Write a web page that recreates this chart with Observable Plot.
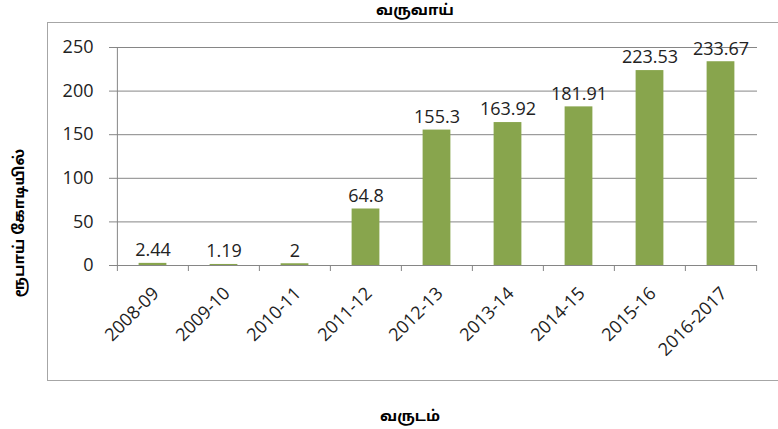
<!DOCTYPE html>
<html><head><meta charset="utf-8">
<script src="https://cdn.jsdelivr.net/npm/d3@7"></script>
<script src="https://cdn.jsdelivr.net/npm/@observablehq/plot@0.6"></script>
<style>
body{margin:0;background:#fff;}
#wrap{position:relative;width:778px;height:429px;overflow:hidden;font-family:"Open Sans",sans-serif;}
#frame{position:absolute;left:47px;top:22px;width:760px;height:357px;border:1px solid #a6a6a6;}
#chart{position:absolute;left:0;top:0;}
.t{position:absolute;font-family:"Noto Sans Tamil","Noto Sans",sans-serif;font-weight:bold;font-size:15px;color:#000;white-space:nowrap;line-height:1;}
#title{left:315px;width:200px;top:4px;text-align:center;}
#xlabel{left:310px;width:200px;top:410px;text-align:center;}
#ylabel{left:20px;top:223px;transform:translate(-50%,-50%) rotate(-90deg);}
</style></head><body>
<div id="wrap">
<div id="frame"></div>
<div id="chart"></div>
<div class="t" id="title">வருவாய்</div>
<div class="t" id="ylabel">ரூபாய் கோடியில்</div>
<div class="t" id="xlabel">வருடம்</div>
</div>
<script>
const years = ["2008-09","2009-10","2010-11","2011-12","2012-13","2013-14","2014-15","2015-16","2016-2017"];
const revenue = [2.44,1.19,2,64.8,155.3,163.92,181.91,223.53,233.67];
const valueLabels = ["2.44","1.19","2","64.8","155.3","163.92","181.91","223.53","233.67"];
const yTicks = [0,50,100,150,200,250];

const data = years.map((y,i)=>({year:y, value:revenue[i], label:valueLabels[i]}));
const W=778,H=429,ML=116,MR=21,MT=47,MB=164;
const half = (W-ML-MR)/years.length/2;
const gray = "#868686";

const chart = Plot.plot({
  width:W, height:H, marginLeft:ML, marginRight:MR, marginTop:MT, marginBottom:MB,
  style:{fontFamily:"'Open Sans', sans-serif", fontSize:"18px", color:"#222", background:"transparent", overflow:"visible"},
  x:{domain:years, padding:0},
  y:{domain:[0,250], ticks:yTicks},
  marks:[
    Plot.ruleY(yTicks.filter(d=>d>0), {stroke:gray}),
    Plot.barY(data,{x:"year", y:"value", fill:"#88A54D", insetLeft:half-14, insetRight:half-14}),
    Plot.ruleY([0],{stroke:gray}),
    Plot.ruleX([years[0]],{x:d=>d, dx:-half, stroke:gray}),
    Plot.ruleX(years,{x:d=>d, y1:0, y2:0, insetBottom:-6, dx:-half, stroke:gray}),
    Plot.ruleX([years[years.length-1]],{x:d=>d, y1:0, y2:0, insetBottom:-6, dx:half, stroke:gray}),
    Plot.text(data,{x:"year", y:"value", text:"label", dy:-13, fill:"#222", fontSize:18}),
    Plot.axisY({ticks:yTicks, tickSize:7, tickPadding:16, stroke:gray, fill:"#222", label:null, fontSize:18}),
    Plot.axisX({tickSize:0, tickRotate:-45, tickPadding:25, dx:3, fill:"#222", label:null, fontSize:18})
  ]
});
document.getElementById("chart").appendChild(chart);
</script>
</body></html>
